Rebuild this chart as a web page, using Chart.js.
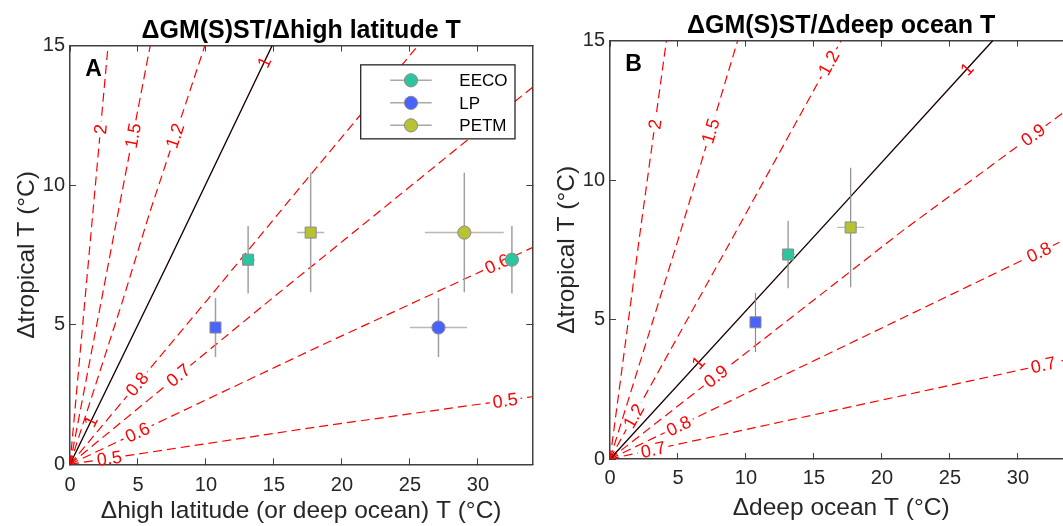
<!DOCTYPE html>
<html><head><meta charset="utf-8">
<script src="https://cdn.jsdelivr.net/npm/chart.js@4.4.1/dist/chart.umd.min.js"></script>
<style>
html,body{margin:0;padding:0;background:#fff;overflow:hidden;}
#wrap{position:relative;width:1063px;height:526px;overflow:hidden;background:#fff;}
.panel{position:absolute;top:0;width:540px;height:526px;}
#pa{left:0;} #pb{left:540px;}
canvas{display:block;}
</style></head><body>
<div id="wrap">
<div class="panel" id="pa"><canvas id="ca" width="540" height="526"></canvas></div>
<div class="panel" id="pb"><canvas id="cb" width="540" height="526"></canvas></div>
</div>
<script>
// ---------------- data ----------------
const periods = ['EECO', 'LP', 'PETM'];
const periodColors = ['#2ec4a0', '#4a63ff', '#b7c332'];
const tropicalT = [7.33, 4.90, 8.30];
const tropicalErr = [1.21, 1.06, 2.14];
const highLatT = [32.5, 27.1, 29.0];
const highLatErr = [0.3, 2.1, 2.9];
const deepOceanT = [13.1, 10.7, 17.7];
const deepOceanErr = [0.5, 0.3, 1.0];

const xTickValues = [0, 5, 10, 15, 20, 25, 30];
const yTickValues = [0, 5, 10, 15];
const xMax = 34, yMax = 15;

// contour lines of the ratio, panel A
const levelsA = ['2', '1.5', '1.2', '1', '0.8', '0.7', '0.6', '0.5'];
const contourXA = [
  [0, 1.68, 2.80],
  [0, 2.32, 3.53, 5.90],
  [0, 3.90, 5.85, 9.92],
  [0, 7.2, 14.87],
  [0, 10.12, 16.8, 25.6],
  [0, 14.75, 20.2, 34],
  [0, 18.3, 34],
  [0, 18.3, 34]
];
const contourYA = [
  [0, 9.0, 15],
  [0, 5.9, 9.0, 15],
  [0, 5.9, 9.0, 15],
  [0, 7.2, 15],
  [0, 5.9, 9.85, 15],
  [0, 5.9, 8.05, 13.5],
  [0, 4.22, 7.76],
  [0, 1.35, 2.42]
];
const labelLevelA = ['2', '1.5', '1.2', '1', '1', '0.8', '0.7', '0.6', '0.5', '0.6', '0.5'];
const labelXA = [2.24, 4.75, 7.8, 14.3, 1.5, 5.0, 8.05, 5.0, 2.9, 31.5, 32.0];
const labelYA = [12.0, 11.76, 11.76, 14.4, 1.55, 2.85, 3.14, 1.11, 0.18, 7.09, 2.3];

// contour lines of the ratio, panel B
const levelsB = ['2', '1.5', '1.2', '1', '0.9', '0.8', '0.7'];
const contourXB = [
  [0, 2.19, 4.15],
  [0, 5.12, 9.39],
  [0, 9.14, 17.0],
  [0, 16.82, 28.16],
  [0, 21.46, 34],
  [0, 16.9, 34],
  [0, 26.5, 34]
];
const contourYB = [
  [0, 8.04, 15],
  [0, 8.04, 15],
  [0, 8.04, 15],
  [0, 8.94, 15],
  [0, 8.16, 12.65],
  [0, 3.97, 7.99],
  [0, 2.8, 3.6]
];
const labelLevelB = ['2', '1.5', '1.2', '1', '1', '0.9', '0.9', '0.8', '0.8', '0.7', '0.7', '1.2'];
const labelXB = [3.29, 7.44, 16.1, 26.3, 6.6, 31.1, 7.84, 31.6, 5.14, 31.9, 3.18, 1.84];
const labelYB = [12.0, 11.75, 14.2, 13.96, 3.4, 11.63, 2.93, 7.36, 1.10, 3.29, 0.32, 1.52];

// ---------------- style ----------------
const FONT = "'Liberation Sans', Arial, Helvetica, sans-serif";
const TXT = '#262626';
const AXC = '#404040';

function pts(xs, ys) { return xs.map((v, i) => ({x: v, y: ys[i]})); }
function vBars(xs, ys, es) {
  const d = [];
  xs.forEach((x, i) => { d.push({x: x, y: ys[i] - es[i]}, {x: x, y: ys[i] + es[i]}, {x: x, y: null}); });
  return d;
}
function hBars(xs, es, ys) {
  const d = [];
  xs.forEach((x, i) => { d.push({x: x - es[i], y: ys[i]}, {x: x + es[i], y: ys[i]}, {x: x, y: null}); });
  return d;
}

const decoPlugin = {
  id: 'deco',
  afterDatasetDraw(chart, args, o) {
    const ds = chart.data.datasets[args.index];
    if (ds.contourIdx === undefined) return;
    const ctx = chart.ctx, ca = chart.chartArea;
    const xs = chart.scales.x, ys = chart.scales.y;
    const P = ds.data.map(p => ({x: xs.getPixelForValue(p.x), y: ys.getPixelForValue(p.y)}));
    const n = o.labelText.length;
    for (let k = 0; k < n; k++) {
      if (o.labelLevel[k] !== ds.contourIdx) continue;
      const qx = xs.getPixelForValue(o.labelX[k]), qy = ys.getPixelForValue(o.labelY[k]);
      let best = null;
      for (let i = 0; i < P.length - 1; i++) {
        const a = P[i], b = P[i + 1];
        const dx = b.x - a.x, dy = b.y - a.y, L2 = dx * dx + dy * dy;
        let t = ((qx - a.x) * dx + (qy - a.y) * dy) / L2;
        t = Math.max(0, Math.min(1, t));
        const cx = a.x + t * dx, cy = a.y + t * dy;
        const d = (cx - qx) ** 2 + (cy - qy) ** 2;
        if (!best || d < best.d) best = {d: d, x: cx, y: cy, ang: Math.atan2(dy, dx)};
      }
      let ang = best.ang;
      if (ang > Math.PI / 2) ang -= Math.PI;
      if (ang < -Math.PI / 2) ang += Math.PI;
      const txt = o.labelText[k];
      ctx.save();
      ctx.font = o.labelSize + 'px ' + FONT;
      const w = ctx.measureText(txt).width;
      if (txt !== '1') {
        ctx.save();
        ctx.beginPath();
        ctx.rect(ca.left + 1, ca.top + 1, ca.right - ca.left - 2, ca.bottom - ca.top - 2);
        ctx.clip();
        ctx.translate(best.x, best.y);
        ctx.rotate(ang);
        ctx.fillStyle = '#ffffff';
        ctx.fillRect(-w / 2 - 3, -4, w + 6, 8);
        ctx.restore();
      }
      ctx.translate(best.x, best.y);
      ctx.rotate(ang);
      ctx.fillStyle = '#ff0000';
      ctx.textAlign = 'center';
      ctx.textBaseline = 'middle';
      ctx.fillText(txt, 0, 1);
      ctx.restore();
    }
  },
  afterDraw(chart, args, o) {
    const ctx = chart.ctx, ca = chart.chartArea;
    ctx.save();
    ctx.font = 'bold 23px ' + FONT;
    ctx.fillStyle = '#000';
    ctx.textAlign = 'center';
    ctx.textBaseline = 'middle';
    ctx.fillText(o.letter, ca.left + 23.5, ca.top + 24);
    ctx.restore();
    if (!o.legend) return;
    const L = ca.left + 290.7, T = ca.top + 19.3, W = 154.3, H = 74;
    ctx.save();
    ctx.fillStyle = '#ffffff';
    ctx.fillRect(L, T, W, H);
    ctx.strokeStyle = '#262626';
    ctx.lineWidth = 1.3;
    ctx.strokeRect(L, T, W, H);
    const rows = [15.5, 38, 60.5];
    periods.forEach((name, i) => {
      const cy = T + rows[i];
      ctx.strokeStyle = '#a8a8a8';
      ctx.lineWidth = 1.5;
      ctx.beginPath(); ctx.moveTo(L + 29.5, cy); ctx.lineTo(L + 71, cy); ctx.stroke();
      ctx.beginPath(); ctx.arc(L + 50.3, cy, 6.6, 0, Math.PI * 2);
      ctx.fillStyle = periodColors[i]; ctx.fill();
      ctx.strokeStyle = '#8a8a8a'; ctx.lineWidth = 1; ctx.stroke();
      ctx.fillStyle = '#000';
      ctx.font = '17px ' + FONT;
      ctx.textAlign = 'left';
      ctx.textBaseline = 'middle';
      ctx.fillText(name, L + 98.6, cy + 1);
    });
    ctx.restore();
  }
};

function makeChart(id, cfg) {
  const datasets = [];
  // markers (drawn on top)
  cfg.markers.forEach(m => {
    datasets.push({
      data: pts(m.xs, tropicalT), showLine: false,
      pointStyle: m.style, pointRadius: m.r, pointHoverRadius: m.r,
      pointBackgroundColor: periodColors, pointBorderColor: '#8a8a8a', pointBorderWidth: 1,
      order: 1
    });
    datasets.push({
      data: vBars(m.xs, tropicalT, tropicalErr), showLine: true, spanGaps: false,
      borderColor: cfg.vColor, borderWidth: cfg.barWidth, pointRadius: 0, order: 2
    });
    datasets.push({
      data: hBars(m.xs, m.es, tropicalT), showLine: true, spanGaps: false,
      borderColor: cfg.hColor, borderWidth: cfg.barWidth, pointRadius: 0, order: 2
    });
  });
  cfg.levels.forEach((lv, i) => {
    const black = lv === '1';
    datasets.push({
      data: pts(cfg.cx[i], cfg.cy[i]), showLine: true,
      borderColor: black ? '#1a0000' : '#ff0000', borderWidth: black ? 1.4 : 1.2,
      borderDash: black ? [] : [9, 5], pointRadius: 0, order: 3, contourIdx: lv,
      tension: 0
    });
  });
  const tickFont = {family: FONT, size: 20};
  const setX = s => { s.ticks = xTickValues.map(v => ({value: v})); };
  const setY = s => { s.ticks = yTickValues.map(v => ({value: v})); };
  return new Chart(document.getElementById(id), {
    type: 'scatter',
    data: {datasets: datasets},
    plugins: [decoPlugin],
    options: {
      responsive: false, animation: false, devicePixelRatio: 1,
      layout: {padding: {left: 0, right: 7.7, top: 0, bottom: 0}, autoPadding: false},
      events: [],
      plugins: {
        legend: {display: false},
        tooltip: {enabled: false},
        title: {
          display: true, text: cfg.title, fullSize: false, color: '#000',
          font: {family: FONT, size: 25, weight: 'bold', lineHeight: 1.05},
          padding: {top: cfg.titleTop, bottom: 1.3}
        },
        deco: {
          letter: cfg.letter, legend: cfg.legend, labelSize: 18,
          labelText: cfg.labelLevel, labelLevel: cfg.labelLevel, labelX: cfg.labelX, labelY: cfg.labelY
        }
      },
      scales: {
        x: {
          type: 'linear', position: 'bottom', min: 0, max: xMax,
          afterBuildTicks: setX,
          afterFit: s => { s.height = cfg.xAxisH; },
          grid: {display: true, drawOnChartArea: false, drawTicks: true, tickLength: -6, tickColor: AXC, tickWidth: 1},
          border: {display: true, color: AXC, width: 1.5},
          ticks: {color: TXT, font: tickFont, padding: cfg.xTickPad, maxRotation: 0, autoSkip: false},
          title: {display: true, text: cfg.xTitle, color: TXT, font: {family: FONT, size: 24.5, lineHeight: 1.2}, padding: {top: 0, bottom: cfg.xTitleBottom}}
        },
        y: {
          type: 'linear', position: 'left', min: 0, max: yMax,
          afterBuildTicks: setY,
          afterFit: s => { s.width = 70; },
          grid: {display: true, drawOnChartArea: false, drawTicks: true, tickLength: -6, tickColor: AXC, tickWidth: 1},
          border: {display: true, color: AXC, width: 1.5},
          ticks: {color: TXT, font: tickFont, padding: 11},
          title: {display: true, text: 'Δtropical T (°C)', color: TXT, font: {family: FONT, size: 24.5, lineHeight: 1.2}, padding: {top: 12.4, bottom: 0}}
        },
        x2: {
          type: 'linear', position: 'top', min: 0, max: xMax,
          afterBuildTicks: setX,
          afterFit: s => { s.height = 0; },
          grid: {display: true, drawOnChartArea: false, drawTicks: true, tickLength: -6, tickColor: AXC, tickWidth: 1},
          border: {display: true, color: AXC, width: 1.5},
          ticks: {display: false}
        },
        y2: {
          type: 'linear', position: 'right', min: 0, max: yMax,
          afterBuildTicks: setY,
          afterFit: s => { s.width = 0; },
          grid: {display: true, drawOnChartArea: false, drawTicks: true, tickLength: -6, tickColor: AXC, tickWidth: 1},
          border: {display: true, color: AXC, width: 1.5},
          ticks: {display: false}
        }
      }
    }
  });
}

makeChart('ca', {
  title: 'ΔGM(S)ST/Δhigh latitude T', titleTop: 18, letter: 'A', legend: true,
  xTitle: 'Δhigh latitude (or deep ocean) T (°C)', xAxisH: 61.7, xTitleBottom: 0, xTickPad: 15,
  markers: [
    {xs: deepOceanT, es: deepOceanErr, style: 'rect', r: 7.8},
    {xs: highLatT, es: highLatErr, style: 'circle', r: 6.6}
  ],
  vColor: '#a0a0a0', hColor: '#b8b8b8', barWidth: 1.5,
  levels: levelsA, cx: contourXA, cy: contourYA,
  labelLevel: labelLevelA, labelX: labelXA, labelY: labelYA
});

makeChart('cb', {
  title: 'ΔGM(S)ST/Δdeep ocean T', titleTop: 13, letter: 'B', legend: false,
  xTitle: 'Δdeep ocean T (°C)', xAxisH: 67, xTitleBottom: 3.3, xTickPad: 13,
  markers: [
    {xs: deepOceanT, es: deepOceanErr, style: 'rect', r: 7.8}
  ],
  vColor: '#8c8c8c', hColor: '#bdbdbd', barWidth: 1.2,
  levels: levelsB, cx: contourXB, cy: contourYB,
  labelLevel: labelLevelB, labelX: labelXB, labelY: labelYB
});
</script>
</body></html>
